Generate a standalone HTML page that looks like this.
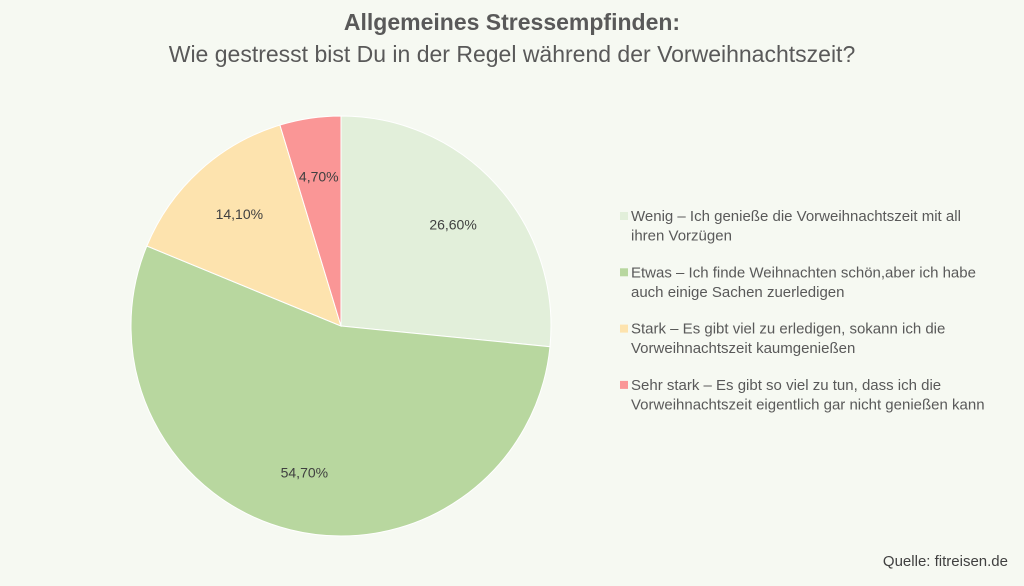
<!DOCTYPE html>
<html><head><meta charset="utf-8"><style>
body{margin:0;width:1024px;height:581px;background:#f6f9f2;font-family:"Liberation Sans",sans-serif;overflow:hidden}
</style></head><body>
<svg width="1024" height="581">
<text x="512" y="30" text-anchor="middle" font-size="23" font-weight="bold" fill="#595959">Allgemeines Stressempfinden:</text>
<text x="512" y="62" text-anchor="middle" font-size="23" fill="#595959">Wie gestresst bist Du in der Regel während der Vorweihnachtszeit?</text>
<g id="pie"></g>
<g id="legend"></g>
<text x="1008" y="566" text-anchor="end" font-size="15" fill="#404040">Quelle: fitreisen.de</text>
</svg>
<script>
const categories=["Wenig – Ich genieße die Vorweihnachtszeit mit all|ihren Vorzügen","Etwas – Ich finde Weihnachten schön,aber ich habe|auch einige Sachen zuerledigen","Stark – Es gibt viel zu erledigen, sokann ich die|Vorweihnachtszeit kaumgenießen","Sehr stark – Es gibt so viel zu tun, dass ich die|Vorweihnachtszeit eigentlich gar nicht genießen kann"];
const values=[26.6,54.7,14.1,4.7];
const valueLabels=["26,60%","54,70%","14,10%","4,70%"];
const colors=["#e2efda","#b8d79f","#fde3ae","#fa9696"];
const NS="http://www.w3.org/2000/svg";
const cx=341,cy=326,r=210;
const pie=document.getElementById('pie'),leg=document.getElementById('legend');
const total=values.reduce((a,b)=>a+b,0);
let a0=-Math.PI/2;
values.forEach((v,i)=>{
  const a1=a0+v/total*2*Math.PI;
  const x0=cx+r*Math.cos(a0),y0=cy+r*Math.sin(a0),x1=cx+r*Math.cos(a1),y1=cy+r*Math.sin(a1);
  const p=document.createElementNS(NS,'path');
  p.setAttribute('d',`M${cx},${cy}L${x0},${y0}A${r},${r} 0 ${a1-a0>Math.PI?1:0} 1 ${x1},${y1}Z`);
  p.setAttribute('fill',colors[i]);p.setAttribute('stroke','#ffffff');p.setAttribute('stroke-width','1');
  
  
  pie.appendChild(p);
  const am=(a0+a1)/2,lr=r*0.72;
  const t=document.createElementNS(NS,'text');
  t.setAttribute('x',cx+lr*Math.cos(am));t.setAttribute('y',cy+lr*Math.sin(am)+5);
  t.setAttribute('text-anchor','middle');t.setAttribute('font-size','14');t.setAttribute('fill','#404040');
  t.textContent=valueLabels[i];
  
  
  pie.appendChild(t);
  a0=a1;
  const ly=221+i*56.3;
  const g=document.createElementNS(NS,'g');
  
  
  const s=document.createElementNS(NS,'rect');
  s.setAttribute('x',620);s.setAttribute('y',ly-9);s.setAttribute('width',8);s.setAttribute('height',8);s.setAttribute('fill',colors[i]);
  g.appendChild(s);
  categories[i].split('|').forEach((line,k)=>{
    const lt=document.createElementNS(NS,'text');
    lt.setAttribute('x',631);lt.setAttribute('y',ly+k*19.5);lt.setAttribute('font-size','15');lt.setAttribute('fill','#595959');
    lt.textContent=line;g.appendChild(lt);
  });
  leg.appendChild(g);
});
</script>
</body></html>
